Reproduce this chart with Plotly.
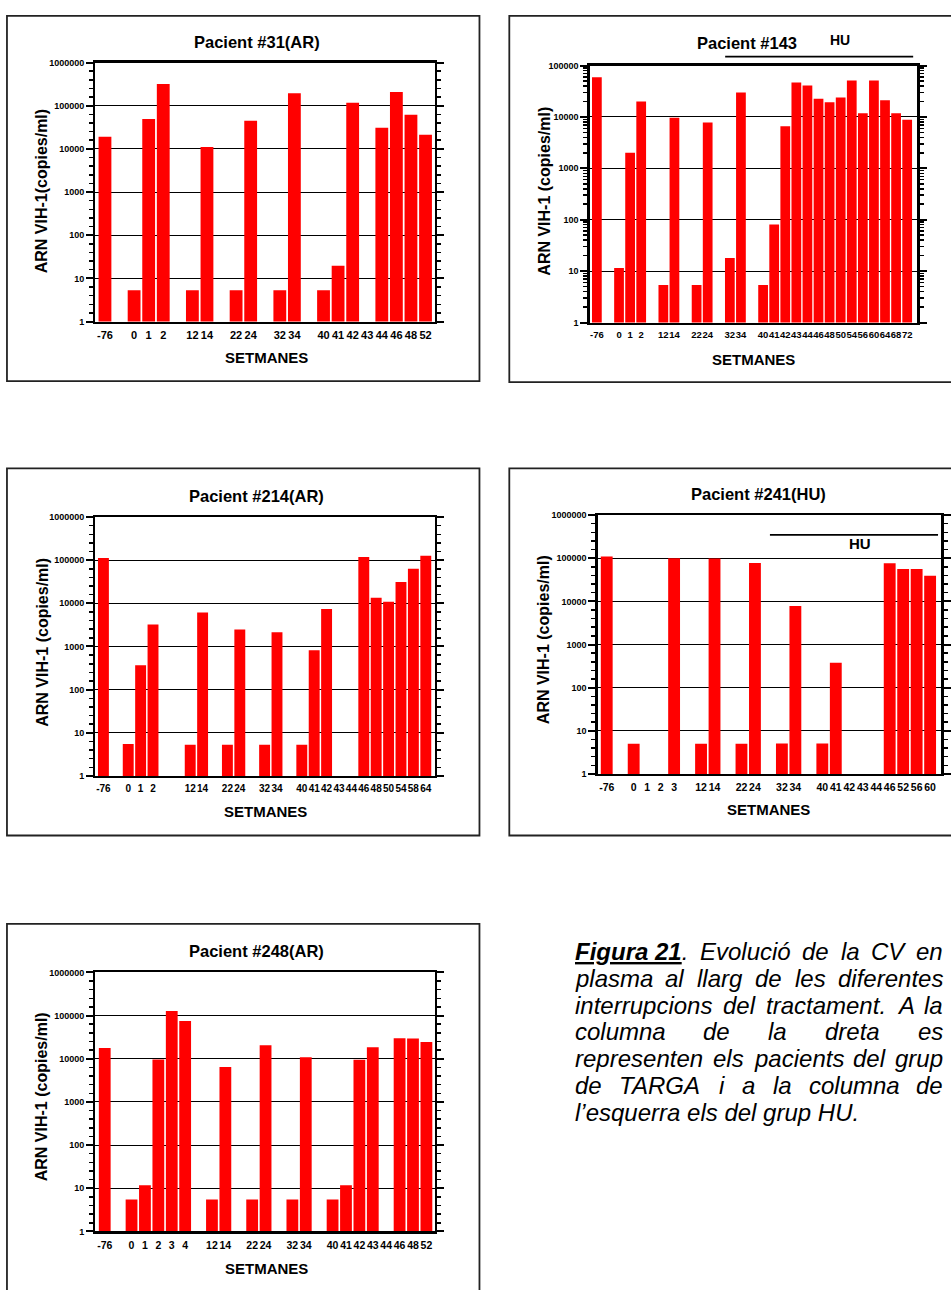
import plotly.graph_objects as go

W, H = 951, 1290
FONT = "Liberation Sans, Arial, sans-serif"

# ---------------- data (None = empty slot / no bar) ----------------
weeks_31 = ["-76", None, "0", "1", "2", None, "12", "14", None, "22", "24", None,
            "32", "34", None, "40", "41", "42", "43", "44", "46", "48", "52"]
vl_31 = [19000, None, 5.3, 49000, 318000, None, 5.3, 11000, None, 5.3, 45000, None,
         5.3, 195000, None, 5.3, 19.5, 117000, None, 31000, 208000, 61500, 21300]

weeks_143 = ["-76", None, "0", "1", "2", None, "12", "14", None, "22", "24", None,
             "32", "34", None, "40", "41", "42", "43", "44", "46", "48", "50", "54",
             "56", "60", "64", "68", "72"]
vl_143 = [59000, None, 11.5, 2000, 20000, None, 5.4, 9600, None, 5.4, 7800, None,
          18, 30000, None, 5.4, 81, 6600, 47000, 41000, 22500, 19300, 23800, 51000,
          11800, 51000, 21000, 11800, 8800]

weeks_214 = ["-76", None, "0", "1", "2", None, None, "12", "14", None, "22", "24", None,
             "32", "34", None, "40", "41", "42", "43", "44", "46", "48", "50", "54",
             "58", "64"]
vl_214 = [112000, None, 5.5, 370, 3240, None, None, 5.3, 6100, None, 5.3, 2470, None,
          5.3, 2130, None, 5.3, 815, 7400, None, None, 118000, 13500, 10900, 31000,
          63500, 127000]

weeks_241 = ["-76", None, "0", "1", "2", "3", None, "12", "14", None, "22", "24", None,
             "32", "34", None, "40", "41", "42", "43", "44", "46", "52", "56", "60"]
vl_241 = [110000, None, 5.0, None, None, 100000, None, 5.0, 98000, None, 5.0, 77000, None,
          5.1, 7800, None, 5.1, 380, None, None, None, 76000, 56500, 56500, 39000]

weeks_248 = ["-76", None, "0", "1", "2", "3", "4", None, "12", "14", None, "22", "24", None,
             "32", "34", None, "40", "41", "42", "43", "44", "46", "48", "52"]
vl_248 = [17700, None, 5.5, 11.8, 9600, 127000, 74500, None, 5.5, 6450, None, 5.5, 20600, None,
          5.5, 10900, None, 5.5, 11.8, 9500, 18600, None, 30000, 29500, 24600]

titles = ["Pacient #31(AR)", "Pacient #143", "Pacient #214(AR)", "Pacient #241(HU)", "Pacient #248(AR)"]
ytitles = ["ARN VIH-1(copies/ml)", "ARN VIH-1 (copies/ml)", "ARN VIH-1 (copies/ml)",
           "ARN VIH-1 (copies/ml)", "ARN VIH-1 (copies/ml)"]
xtitle = "SETMANES"

caption_lines = [
    ["<b><span style='text-decoration:underline'>Figura 21</span></b>.", "Evolució", "de", "la", "CV", "en"],
    ["plasma", "al", "llarg", "de", "les", "diferentes"],
    ["interrupcions", "del", "tractament.", "A", "la"],
    ["columna", "de", "la", "dreta", "es"],
    ["representen", "els", "pacients", "del", "grup"],
    ["de", "TARGA", "i", "a", "la", "columna", "de"],
    ["l’esquerra els del grup HU."],
]

# ---------------- layout helpers ----------------
def X(px):
    return px / W

def Y(py):
    return 1 - py / H

panels = [
    dict(weeks=weeks_31, vl=vl_31, dom=(96, 437, 58, 319), pad=(0.65, 0.63), ndec=6, minor="even",
         box=(7, 482, 11, 379), tt=(258, 37), yt=(42, 188), xt=(268, 355), xfs=11),
    dict(weeks=weeks_143, vl=vl_143, dom=(593, 922, 61, 320), pad=(0.63, 0.9), ndec=5, minor="digits",
         box=(512, 965, 11, 380), tt=(751, 38), yt=(547, 188), xt=(757, 357), xfs=9.5),
    dict(weeks=weeks_214, vl=vl_214, dom=(96, 437, 516, 777), pad=(0.64, 0.72), ndec=6, minor="even",
         box=(7, 482, 467, 837), tt=(258, 495), yt=(42, 642), xt=(267, 813), xfs=10),
    dict(weeks=weeks_241, vl=vl_241, dom=(601, 946, 514, 775), pad=(0.66, 0.81), ndec=6, minor="even",
         box=(512, 965, 467, 837), tt=(763, 493), yt=(546, 640), xt=(773, 811), xfs=10.5),
    dict(weeks=weeks_248, vl=vl_248, dom=(96, 437, 975, 1236), pad=(0.69, 0.62), ndec=6, minor="even",
         box=(7, 482, 926, 1300), tt=(258, 953), yt=(42, 1100), xt=(268, 1273), xfs=10.5),
]

fig = go.Figure()
layout = dict(width=W, height=H, margin=dict(l=0, r=0, t=0, b=0), autosize=False,
              paper_bgcolor="white", plot_bgcolor="white", showlegend=False,
              bargap=0.12, font=dict(family=FONT, color="black"))
shapes = []
annotations = []

def note(text, px, py, size, **kw):
    d = dict(text=text, x=X(px), y=Y(py), xref="paper", yref="paper", showarrow=False,
             xanchor="center", yanchor="middle", font=dict(family=FONT, size=size, color="black"))
    d.update(kw)
    annotations.append(d)

for i, p in enumerate(panels, start=1):
    sfx = "" if i == 1 else str(i)
    xs = list(range(len(p["weeks"])))
    fig.add_trace(go.Bar(x=xs, y=p["vl"], xaxis="x" + sfx, yaxis="y" + sfx,
                         marker=dict(color="#ff0000", line=dict(width=0)), hoverinfo="skip"))
    tickvals = [x for x, w in zip(xs, p["weeks"]) if w is not None]
    ticktext = [w for w in p["weeks"] if w is not None]
    x0, x1, y0, y1 = p["dom"]
    nd = p["ndec"]
    if p["minor"] == "even":
        mvals = [10 ** (d + k / 5) for d in range(nd) for k in range(1, 5)]
    else:
        mvals = [m * 10 ** d for d in range(nd) for m in range(2, 10)]
    layout["xaxis" + sfx] = dict(
        domain=[X(x0), X(x1)], anchor="y" + sfx,
        range=[-p["pad"][0], len(xs) - 1 + p["pad"][1]],
        tickmode="array", tickvals=tickvals, ticktext=ticktext, ticks="", tickangle=0,
        showline=True, linewidth=2.5, linecolor="black", mirror=True,
        showgrid=False, zeroline=False, ticklabelstandoff=2,
        tickfont=dict(family=FONT, size=p["xfs"], color="black", weight="bold"),
        fixedrange=True)
    layout["yaxis" + sfx] = dict(
        domain=[Y(y1), Y(y0)], anchor="x" + sfx, type="log", range=[0, nd],
        tickmode="array", tickvals=[10 ** k for k in range(nd + 1)],
        ticktext=[str(10 ** k) for k in range(nd + 1)],
        ticks="outside", ticklen=7, tickwidth=2, tickcolor="black",
        showline=True, linewidth=2.5, linecolor="black", mirror="ticks",
        showgrid=True, gridcolor="black", gridwidth=1, zeroline=False,
        tickfont=dict(family=FONT, size=9, color="black", weight="bold"),
        minor=dict(tickmode="array", tickvals=mvals, ticks="outside", ticklen=4,
                   tickwidth=1.5, tickcolor="black", showgrid=False),
        fixedrange=True)
    bx0, bx1, by0, by1 = p["box"]
    shapes.append(dict(type="rect", xref="paper", yref="paper", x0=X(bx0), x1=X(bx1),
                       y0=Y(by1), y1=Y(by0), line=dict(color="#222", width=1.8), layer="above"))
    note("<b>" + titles[i - 1] + "</b>", p["tt"][0], p["tt"][1], 16.5)
    note("<b>" + ytitles[i - 1] + "</b>", p["yt"][0], p["yt"][1], 16, textangle=-90)
    note("<b>" + xtitle + "</b>", p["xt"][0], p["xt"][1], 15)

# HU markers
shapes.append(dict(type="line", xref="paper", yref="paper", x0=X(729), x1=X(918), y0=Y(52), y1=Y(52),
                   line=dict(color="black", width=1.6)))
note("<b>HU</b>", 844, 35, 14)
shapes.append(dict(type="line", xref="paper", yref="paper", x0=X(774), x1=X(943), y0=Y(534), y1=Y(534),
                   line=dict(color="black", width=1.6)))
note("<b>HU</b>", 865, 543, 15)

# ---------------- caption (justified) ----------------
AW = {' ': 278, '.': 278, "’": 222, 'A': 667, 'C': 722, 'E': 667, 'G': 778, 'H': 722, 'R': 722,
      'T': 611, 'U': 722, 'V': 667, 'a': 556, 'c': 500, 'd': 556, 'e': 556, 'f': 278, 'g': 556,
      'i': 222, 'l': 222, 'm': 833, 'n': 556, 'o': 556, 'p': 556, 'q': 556, 'r': 333, 's': 500,
      't': 278, 'u': 556, 'v': 500, 'ó': 556, 'ò': 556, 'é': 556}
BW = {' ': 278, 'F': 611, 'i': 278, 'g': 611, 'u': 611, 'r': 389, 'a': 556, '2': 556, '1': 556}

CS = 24
CX0, CX1 = 577, 947
CY0, CDY = 954, 27

def tok_width(tok):
    if tok.startswith("<b>"):
        return (sum(BW[c] for c in "Figura 21") + AW['.']) * CS / 1000
    return sum(AW.get(c, 556) for c in tok) * CS / 1000

for li, words in enumerate(caption_lines):
    last = li == len(caption_lines) - 1
    widths = [tok_width(w) for w in words]
    if last or len(words) == 1:
        gap = AW[' '] * CS / 1000
    else:
        gap = (CX1 - CX0 - sum(widths)) / (len(words) - 1)
    xx = CX0
    for w, wd in zip(words, widths):
        note("<i>" + w + "</i>", xx, CY0 + CDY * li, CS, xanchor="left", borderpad=0)
        xx += wd + gap

layout["shapes"] = shapes
layout["annotations"] = annotations
fig.update_layout(**layout)

fig.write_html("out.html", config={"displayModeBar": False, "staticPlot": True},
               post_script="document.body.style.margin='0';document.body.style.overflow='hidden';")
